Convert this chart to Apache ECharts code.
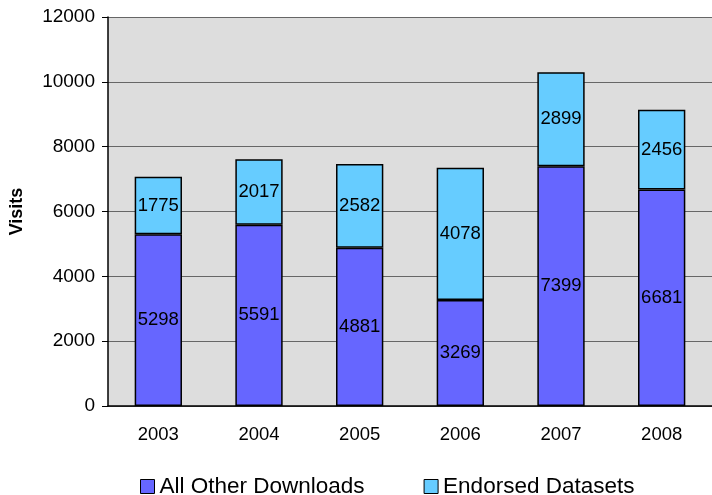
<!DOCTYPE html>
<html>
<head>
<meta charset="utf-8">
<script src="https://cdn.jsdelivr.net/npm/echarts@6/dist/echarts.min.js"></script>
<style>
  html, body { margin: 0; padding: 0; background: #fff; }
  #chart { width: 712px; height: 495px; }
</style>
</head>
<body>
<div id="chart"></div>
<script>
const years = ["2003", "2004", "2005", "2006", "2007", "2008"];
const otherDownloads = [5298, 5591, 4881, 3269, 7399, 6681];
const endorsedDatasets = [1775, 2017, 2582, 4078, 2899, 2456];

const font = "Liberation Sans, Arial, sans-serif";

let myChart = echarts.init(document.getElementById("chart"));

const barLabel = {
  show: true,
  position: "inside",
  color: "#000",
  fontSize: 18.5,
  fontFamily: font
};

let option = {
  animation: false,
  backgroundColor: "#fff",
  grid: {
    left: 108,
    right: 0,
    top: 17,
    bottom: 89,
    show: true,
    backgroundColor: "#dddddd",
    borderWidth: 0
  },
  legend: {
    top: 470,
    left: 135,
    itemGap: 59,
    itemWidth: 14,
    itemHeight: 14,
    itemStyle: { borderColor: "#000", borderWidth: 1 },
    icon: "rect",
    textStyle: { fontSize: 22.5, color: "#000", fontFamily: font },
    data: ["All Other Downloads", "Endorsed Datasets"]
  },
  xAxis: {
    type: "category",
    data: years,
    axisLine: { lineStyle: { color: "#000", width: 1.5 } },
    axisTick: { show: false },
    axisLabel: { color: "#000", fontSize: 18.5, fontFamily: font, margin: 19 }
  },
  yAxis: {
    type: "value",
    min: 0,
    max: 12000,
    interval: 2000,
    name: "Visits",
    nameLocation: "middle",
    nameGap: 82,
    nameTextStyle: { fontSize: 18, fontWeight: "bold", color: "#000", fontFamily: font },
    axisLine: { show: true, lineStyle: { color: "#000", width: 1.5 } },
    axisTick: { show: true, length: 6, lineStyle: { color: "#000" } },
    axisLabel: {
      color: "#000",
      fontSize: 19,
      fontFamily: font,
      margin: 13,
      formatter: function (v) { return String(v); }
    },
    splitLine: { lineStyle: { color: "#666", width: 1 } }
  },
  series: [
    {
      name: "All Other Downloads",
      type: "bar",
      stack: "total",
      barWidth: "47%",
      data: otherDownloads,
      itemStyle: { color: "#6666ff", borderColor: "#000", borderWidth: 1.5 },
      label: barLabel
    },
    {
      name: "Endorsed Datasets",
      type: "bar",
      stack: "total",
      barWidth: "47%",
      data: endorsedDatasets,
      itemStyle: { color: "#66ccff", borderColor: "#000", borderWidth: 1.5 },
      label: barLabel
    }
  ]
};

myChart.setOption(option);
</script>
</body>
</html>
